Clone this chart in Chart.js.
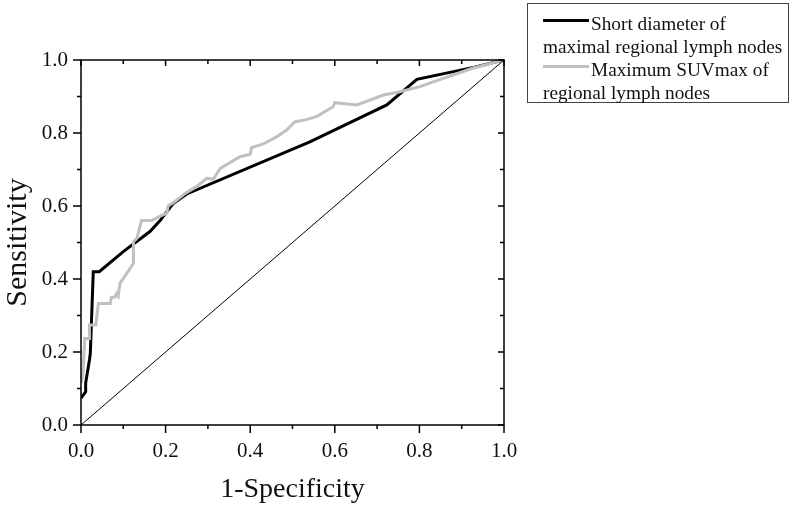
<!DOCTYPE html>
<html>
<head>
<meta charset="utf-8">
<script src="https://cdn.jsdelivr.net/npm/chart.js@4.4.1/dist/chart.umd.min.js"></script>
<style>
  body { margin: 0; background: #fff; }
  #wrap { position: relative; width: 791px; height: 507px; }
  #legend {
    position: absolute; left: 527px; top: 3px; width: 262px; height: 100px;
    border: 1px solid #444; font-family: "Liberation Serif", serif; font-size: 19.3px;
    line-height: 23px; padding: 8px 0 0 15px; box-sizing: border-box; color: #111;
  }
  .sw { display: inline-block; width: 46px; height: 3px; vertical-align: 8px; margin-right: 2px; }
</style>
</head>
<body>
<div id="wrap">
  <canvas id="myChart" width="791" height="507"></canvas>
  <div id="legend">
    <div><span class="sw" style="background:#000"></span>Short diameter of</div>
    <div>maximal regional lymph nodes</div>
    <div><span class="sw" style="background:#c0c0c0"></span>Maximum SUVmax of</div>
    <div>regional lymph nodes</div>
  </div>
</div>
<script>
// datos
const shortFpr  = [0, 0.002, 0.011, 0.011, 0.02, 0.022, 0.029, 0.043, 0.10, 0.163, 0.187, 0.218, 0.25, 0.541, 0.723, 0.794, 0.90, 0.93, 1.0];
const shortSens = [0.074, 0.074, 0.091, 0.115, 0.178, 0.196, 0.42, 0.42, 0.475, 0.53, 0.56, 0.607, 0.633, 0.776, 0.877, 0.947, 0.973, 0.98, 1.0];

const suvFpr  = [0, 0.004, 0.009, 0.02, 0.02, 0.035, 0.041, 0.069, 0.072, 0.08, 0.084, 0.088, 0.092, 0.108, 0.124, 0.124, 0.132, 0.143, 0.167, 0.183, 0.203, 0.206, 0.222, 0.246, 0.273, 0.297, 0.313, 0.329, 0.376, 0.40, 0.403, 0.431, 0.463, 0.486, 0.506, 0.53, 0.557, 0.596, 0.60, 0.652, 0.715, 0.754, 0.801, 0.927, 1.0];
const suvSens = [0.115, 0.132, 0.237, 0.237, 0.274, 0.274, 0.333, 0.333, 0.35, 0.35, 0.36, 0.353, 0.388, 0.415, 0.443, 0.502, 0.511, 0.56, 0.56, 0.57, 0.58, 0.60, 0.612, 0.634, 0.653, 0.676, 0.673, 0.703, 0.735, 0.742, 0.76, 0.77, 0.79, 0.808, 0.831, 0.836, 0.845, 0.872, 0.883, 0.877, 0.904, 0.913, 0.927, 0.978, 1.0];

const refFpr  = [0, 1];
const refSens = [0, 1];

const tickValues = [0, 0.1, 0.2, 0.3, 0.4, 0.5, 0.6, 0.7, 0.8, 0.9, 1.0];

function pts(xs, ys) {
    return xs.map((v, i) => ({ x: v, y: ys[i] }));
}

// marcas de los ejes (afuera abajo/izquierda, adentro arriba/derecha)
const tickMarks = {
    id: 'tickMarks',
    afterDraw(chart) {
        const c = chart.ctx;
        const a = chart.chartArea;
        const sx = chart.scales.x, sy = chart.scales.y;
        c.save();
        c.strokeStyle = '#000';
        c.lineWidth = 1.5;
        c.strokeRect(a.left, a.top, a.right - a.left, a.bottom - a.top);
        tickValues.forEach((v, i) => {
            const major = i % 2 === 0;
            const px = sx.getPixelForValue(v);
            const py = sy.getPixelForValue(v);
            const out = major ? 8 : 4;
            const inn = major ? 6 : 4;
            c.beginPath();
            c.moveTo(px, a.bottom); c.lineTo(px, a.bottom + out);
            c.moveTo(px, a.top); c.lineTo(px, a.top + inn);
            c.moveTo(a.left, py); c.lineTo(a.left - out, py);
            c.moveTo(a.right, py); c.lineTo(a.right - inn, py);
            c.stroke();
        });
        c.restore();
    }
};

const font = 'Liberation Serif';
const ctx = document.getElementById('myChart').getContext('2d');
const myChart = new Chart(ctx, {
    type: 'line',
    data: {
        datasets: [
            {
                label: 'Reference',
                data: pts(refFpr, refSens),
                borderColor: '#000',
                borderWidth: 1,
                pointRadius: 0,
                fill: false
            },
            {
                label: 'Maximum SUVmax of regional lymph nodes',
                data: pts(suvFpr, suvSens),
                borderColor: '#c0c0c0',
                borderWidth: 3,
                pointRadius: 0,
                fill: false
            },
            {
                label: 'Short diameter of maximal regional lymph nodes',
                data: pts(shortFpr, shortSens),
                borderColor: '#000',
                borderWidth: 3,
                pointRadius: 0,
                fill: false
            }
        ]
    },
    options: {
        responsive: false,
        animation: false,
        layout: { padding: { top: 60, right: 287, left: 0, bottom: 0 } },
        plugins: {
            legend: { display: false },
            tooltip: { enabled: false }
        },
        scales: {
            x: {
                type: 'linear',
                min: 0, max: 1,
                afterFit(s) { s.height = 82; },
                grid: { display: false },
                border: { display: false },
                ticks: {
                    stepSize: 0.2,
                    padding: 6,
                    color: '#111',
                    font: { family: font, size: 21 },
                    callback: v => v.toFixed(1)
                },
                title: {
                    display: true,
                    text: '1-Specificity',
                    color: '#111',
                    font: { family: font, size: 28 },
                    padding: { top: 4, bottom: 1 }
                }
            },
            y: {
                min: 0, max: 1,
                afterFit(s) { s.width = 81; },
                grid: { display: false },
                border: { display: false },
                ticks: {
                    stepSize: 0.2,
                    padding: 5,
                    color: '#111',
                    font: { family: font, size: 21 },
                    callback: v => v.toFixed(1)
                },
                title: {
                    display: true,
                    text: 'Sensitivity',
                    color: '#111',
                    font: { family: font, size: 30 },
                    padding: { top: 0, bottom: 0 }
                }
            }
        }
    },
    plugins: [tickMarks]
});
</script>
</body>
</html>
